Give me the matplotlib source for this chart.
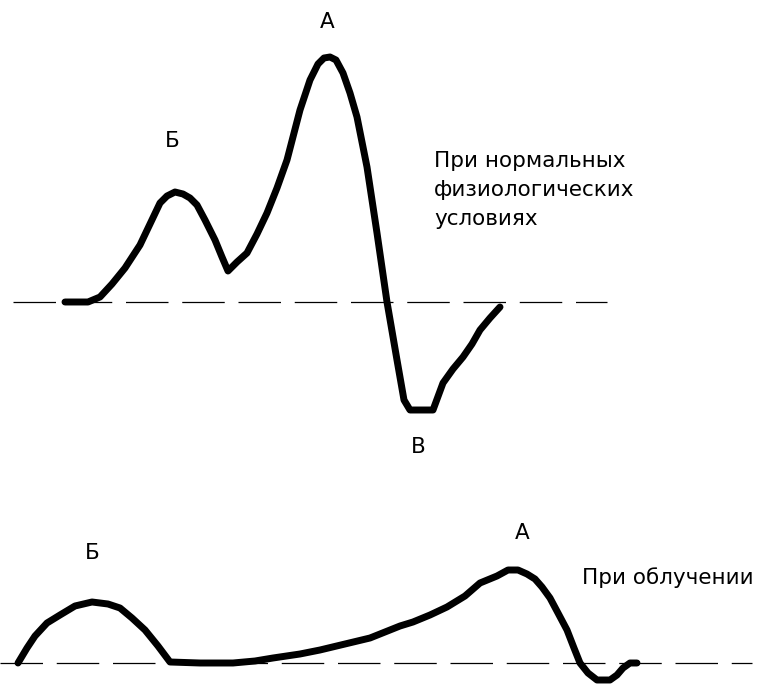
import numpy as np
import matplotlib.pyplot as plt

# Нормальные условия: время (px) и амплитуда над базовой линией (px)
norm_t = [65, 88, 100, 112, 125, 140, 150, 160, 167, 175, 183, 190, 197, 205,
          215, 222, 228, 237, 247, 257, 267, 277, 287, 300, 310, 318, 324, 330,
          336, 343, 350, 357, 367, 377, 387, 397, 404, 410, 422, 433, 443, 453,
          463, 472, 480, 490, 500]
norm_a = [0, 0, 5, 18, 34, 57, 78, 99, 106, 110, 108, 104, 97, 82,
          62, 45, 31, 40, 49, 68, 89, 114, 142, 192, 222, 238, 244, 245,
          242, 229, 209, 185, 135, 69, 0, -58, -98, -108, -108, -108, -81, -67,
          -55, -42, -28, -16, -5]

# При облучении
irr_t = [18, 27, 35, 47, 60, 75, 92, 108, 120, 132, 145, 158, 170, 200, 233,
         255, 273, 300, 320, 345, 370, 400, 413, 430, 447, 465, 480, 497, 508,
         518, 527, 535, 542, 550, 558, 567, 574, 580, 588, 597, 610, 617, 623,
         630, 637]
irr_a = [0, 15, 27, 40, 48, 57, 61, 59, 55, 45, 33, 17, 1, 0, 0,
         2, 5, 9, 13, 19, 25, 37, 41, 48, 56, 67, 80, 87, 93,
         93, 89, 84, 76, 65, 50, 33, 15, 0, -10, -17, -17, -12, -5,
         0, 0]

base_top, base_bot = 302, 663

fig = plt.figure(figsize=(7.7, 6.86), dpi=100)
ax = fig.add_axes([0, 0, 1, 1])
ax.set_xlim(0, 770)
ax.set_ylim(686, 0)
ax.axis('off')

# базовые линии
ax.plot([13, 607], [base_top, base_top], color='black', lw=0.9, dashes=(34, 11))
ax.plot([0, 752], [base_bot, base_bot], color='black', lw=0.9, dashes=(34, 11))

# кривые
ax.plot(norm_t, base_top - np.array(norm_a), color='black', lw=5,
        solid_joinstyle='round', solid_capstyle='round')
ax.plot(irr_t, base_bot - np.array(irr_a), color='black', lw=5,
        solid_joinstyle='round', solid_capstyle='round')

fs = 15.5
ax.text(327, 22, 'А', fontsize=fs, ha='center', va='center')
ax.text(172, 141, 'Б', fontsize=fs, ha='center', va='center')
ax.text(418, 447, 'В', fontsize=fs, ha='center', va='center')
ax.text(434, 190, 'При нормальных\nфизиологических\nусловиях', fontsize=fs,
        ha='left', va='center', linespacing=1.55)

ax.text(92, 553, 'Б', fontsize=fs, ha='center', va='center')
ax.text(522, 533, 'А', fontsize=fs, ha='center', va='center')
ax.text(582, 578, 'При облучении', fontsize=fs, ha='left', va='center')

fig.savefig('out.png', dpi=100)
